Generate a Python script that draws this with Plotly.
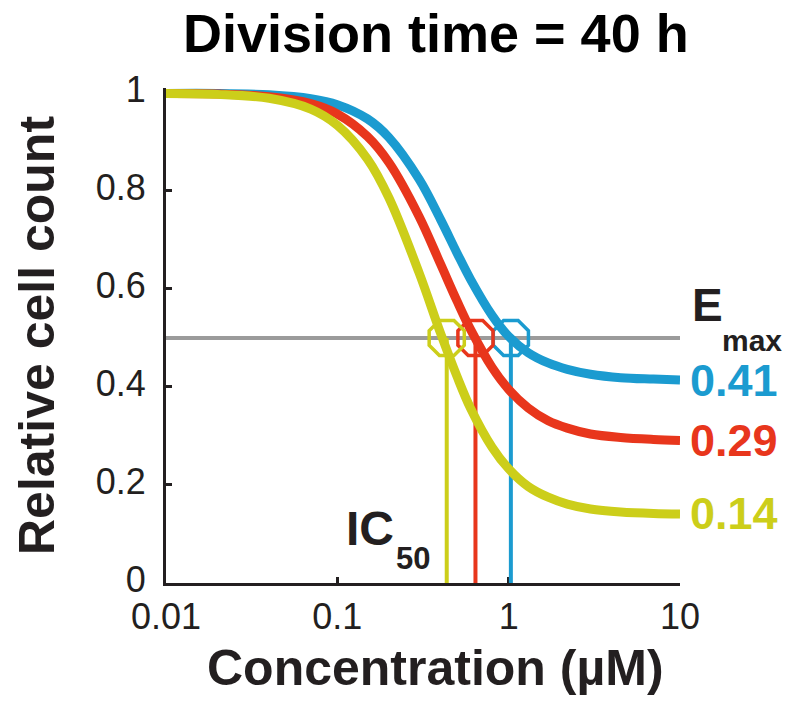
import plotly.graph_objects as go

# Concentration grid (µM) and relative cell count for each drug
conc = [0.01, 0.02, 0.04, 0.07, 0.1, 0.15, 0.2, 0.3, 0.4, 0.5,
        0.6, 0.8, 1.0, 1.3, 1.7, 2.2, 3, 4.5, 7, 10]
blue_vals = [0.999, 0.999, 0.996, 0.988, 0.976, 0.947, 0.909, 0.824, 0.742, 0.673,
             0.619, 0.546, 0.503, 0.470, 0.449, 0.436, 0.426, 0.419, 0.416, 0.414]
red_vals = [0.999, 0.998, 0.992, 0.978, 0.957, 0.911, 0.858, 0.748, 0.651, 0.575,
            0.517, 0.440, 0.395, 0.357, 0.331, 0.316, 0.304, 0.297, 0.293, 0.291]
yellow_vals = [0.999, 0.997, 0.989, 0.967, 0.934, 0.865, 0.786, 0.633, 0.510, 0.421,
               0.356, 0.277, 0.233, 0.197, 0.175, 0.161, 0.151, 0.145, 0.142, 0.141]

ic50 = [1.03, 0.64, 0.435]         # blue, red, yellow
emax = [0.41, 0.29, 0.14]
colors = ["#1B9BD0", "#E8361C", "#CCCE1A"]
series = [blue_vals, red_vals, yellow_vals]

x_ticks = [0.01, 0.1, 1, 10]
x_tick_text = ["0.01", "0.1", "1", "10"]
y_ticks = [0, 0.2, 0.4, 0.6, 0.8, 1]
y_tick_text = ["0", "0.2", "0.4", "0.6", "0.8", "1"]

half_level = 0.5
dark = "#231F20"
font = "Liberation Sans, Arial, sans-serif"

fig = go.Figure()

# 50% reference line
fig.add_trace(go.Scatter(x=[conc[0], conc[-1]], y=[half_level, half_level], mode="lines",
                         line=dict(color="#9B9B9B", width=4), hoverinfo="skip"))

# IC50 drop lines
for c, col in zip(ic50, colors):
    fig.add_trace(go.Scatter(x=[c, c], y=[0, half_level], mode="lines",
                             line=dict(color=col, width=4), hoverinfo="skip"))

# IC50 markers
for c, col in zip(ic50, colors):
    fig.add_trace(go.Scatter(x=[c], y=[half_level], mode="markers", cliponaxis=False,
                             marker=dict(symbol="octagon-open", size=38, color=col,
                                         line=dict(color=col, width=3.5))))

# dose-response curves (yellow last so it sits on top)
for vals, col in zip(series, colors):
    fig.add_trace(go.Scatter(x=conc, y=vals, mode="lines",
                             line=dict(color=col, width=9, shape="spline", smoothing=1.0)))

# Emax value labels at the curve ends
for vals, e, col in zip(series, emax, colors):
    fig.add_annotation(x=1, y=vals[-1], xref="x", yref="y", text=f"<b>{e:.2f}</b>",
                       showarrow=False, xanchor="left", yanchor="middle", xshift=8,
                       font=dict(family=font, size=45, color=col))

# E_max header
fig.add_annotation(x=1, y=half_level, xref="x", yref="y", text="<b>E</b>", showarrow=False,
                   xanchor="left", yanchor="bottom", xshift=10, yshift=5,
                   font=dict(family=font, size=46, color=dark))
fig.add_annotation(x=1, y=half_level, xref="x", yref="y", text="<b>max</b>", showarrow=False,
                   xanchor="left", yanchor="middle", xshift=40, yshift=-3,
                   font=dict(family=font, size=30, color=dark))

# text placed by pixel position, converted to paper coordinates below
pixel_texts = [
    (370, 528, "<b>IC</b>", 48, dark, 0),
    (413, 558, "<b>50</b>", 31, dark, 0),
    (436, 33, "<b>Division time = 40 h</b>", 54, "#000000", 0),
    (435, 668, "<b>Concentration (µM)</b>", 50, dark, 0),
    (37, 336, "<b>Relative cell count</b>", 50, dark, -90),
]

L, R, T, B = 166, 680, 88, 583
for px, py, txt, size, col, ang in pixel_texts:
    fig.add_annotation(x=(px - L) / (R - L), y=(B - py) / (B - T), xref="paper", yref="paper",
                       text=txt, showarrow=False, xanchor="center", yanchor="middle",
                       textangle=ang, font=dict(family=font, size=size, color=col))

axis_common = dict(showgrid=False, zeroline=False, showline=True, linecolor=dark, linewidth=3,
                   ticks="inside", ticklen=6, tickwidth=3, tickcolor=dark, layer="below traces",
                   tickfont=dict(family=font, size=36, color=dark))

fig.update_layout(
    width=787, height=702,
    margin=dict(l=L, r=787 - R, t=T, b=702 - B, pad=0),
    plot_bgcolor="white", paper_bgcolor="white",
    showlegend=False,
    xaxis=dict(type="log", range=[-2, 1], tickvals=x_ticks, ticktext=x_tick_text,
               ticklabelstandoff=0, **axis_common),
    yaxis=dict(range=[0, 1.01], tickvals=y_ticks, ticktext=y_tick_text,
               ticklabelstandoff=10, ticklabelshift=-4, **axis_common),
)

fig.write_html("out.html")
